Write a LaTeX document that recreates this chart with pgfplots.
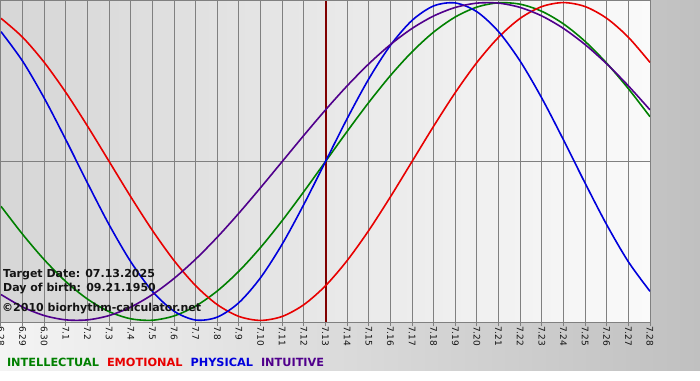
\documentclass[border=0pt]{standalone}
\usepackage{fontspec}
\setmainfont{DejaVu Sans}
\usepackage{pgfplots}
\pgfplotsset{compat=1.18}
\definecolor{cInt}{RGB}{0,128,0}
\definecolor{cEmo}{RGB}{232,0,0}
\definecolor{cPhy}{RGB}{0,0,220}
\definecolor{cItu}{RGB}{80,0,140}
\definecolor{gridc}{RGB}{128,128,128}
\definecolor{tline}{RGB}{128,0,0}
\definecolor{bgL}{RGB}{244,244,244}
\definecolor{bgR}{RGB}{192,192,192}
\definecolor{plotL}{RGB}{214,214,214}
\definecolor{plotR}{RGB}{250,250,250}
\definecolor{txt}{RGB}{20,20,20}
\begin{document}
\begin{tikzpicture}
\useasboundingbox (0,0) rectangle (700pt,380pt);
\fill[white] (0,0) rectangle (700pt,380pt);
\shade[left color=bgL, right color=bgR] (0,10pt) rectangle (700pt,380pt);
\begin{axis}[
  scale only axis, width=649pt, height=321pt,
  at={(1pt,58pt)}, anchor=south west,
  xmin=0, xmax=30, ymin=-1.01, ymax=1.01,
  axis background/.style={left color=plotL, right color=plotR},
  axis line style={gridc, line width=1pt},
  xtick={0,...,30},
  xticklabels={6.28,6.29,6.30,7.1,7.2,7.3,7.4,7.5,7.6,7.7,7.8,7.9,7.10,7.11,7.12,7.13,7.14,7.15,7.16,7.17,7.18,7.19,7.20,7.21,7.22,7.23,7.24,7.25,7.26,7.27,7.28},
  xmajorgrids, ymajorgrids,
  grid style={gridc, line width=1pt},
  tick align=outside, major tick length=4pt,
  xtick pos=lower,
  xtick style={gridc, line width=1pt},
  ytick={0}, yticklabels={}, ytick style={draw=none},
  xticklabel style={rotate=-90, anchor=west, inner sep=0pt, font=\fontsize{9}{9}\selectfont, text=txt},
  /pgf/number format/assume math mode=true,
  legend columns=-1,
  legend image code/.code={},
  legend style={draw=none, fill=none, at={(axis description cs:0.009,-0.127)}, anchor=west,
    inner sep=0pt, nodes={inner sep=0pt}, font=\fontsize{11.3}{13}\selectfont\bfseries,
    /tikz/every even column/.append style={column sep=8pt}},
]
\addplot[forget plot, tline, line width=2pt] coordinates {(15,-1.01) (15,1.01)};
\addplot[cInt, line width=1.6pt, smooth] coordinates {
(0,-0.28173) (1,-0.45822) (2,-0.61816) (3,-0.75575) (4,-0.86603) (5,-0.94500) (6,-0.98982) (7,-0.99887) (8,-0.97181) (9,-0.90963) (10,-0.81458) (11,-0.69007) (12,-0.54064) (13,-0.37166) (14,-0.18925) (15,0) (16,0.18925) (17,0.37166) (18,0.54064) (19,0.69007) (20,0.81458) (21,0.90963) (22,0.97181) (23,0.99887) (24,0.98982) (25,0.94500) (26,0.86603) (27,0.75575) (28,0.61816) (29,0.45822) (30,0.28173)};
\addlegendentry{\textcolor{cInt}{INTELLECTUAL}}
\addplot[cEmo, line width=1.6pt, smooth] coordinates {
(0,0.90097) (1,0.78183) (2,0.62349) (3,0.43388) (4,0.22252) (5,0) (6,-0.22252) (7,-0.43388) (8,-0.62349) (9,-0.78183) (10,-0.90097) (11,-0.97493) (12,-1) (13,-0.97493) (14,-0.90097) (15,-0.78183) (16,-0.62349) (17,-0.43388) (18,-0.22252) (19,0) (20,0.22252) (21,0.43388) (22,0.62349) (23,0.78183) (24,0.90097) (25,0.97493) (26,1) (27,0.97493) (28,0.90097) (29,0.78183) (30,0.62349)};
\addlegendentry{\textcolor{cEmo}{EMOTIONAL}}
\addplot[cPhy, line width=1.6pt, smooth] coordinates {
(0,0.81697) (1,0.63109) (2,0.39840) (3,0.13617) (4,-0.13617) (5,-0.39840) (6,-0.63109) (7,-0.81697) (8,-0.94226) (9,-0.99767) (10,-0.97908) (11,-0.88789) (12,-0.73084) (13,-0.51958) (14,-0.26980) (15,0) (16,0.26980) (17,0.51958) (18,0.73084) (19,0.88789) (20,0.97908) (21,0.99767) (22,0.94226) (23,0.81697) (24,0.63109) (25,0.39840) (26,0.13617) (27,-0.13617) (28,-0.39840) (29,-0.63109) (30,-0.81697)};
\addlegendentry{\textcolor{cPhy}{PHYSICAL}}
\addplot[cItu, line width=1.6pt, smooth] coordinates {
(0,-0.83717) (1,-0.91577) (2,-0.96940) (3,-0.99658) (4,-0.99658) (5,-0.96940) (6,-0.91577) (7,-0.83717) (8,-0.73572) (9,-0.61421) (10,-0.47595) (11,-0.32470) (12,-0.16459) (13,0) (14,0.16459) (15,0.32470) (16,0.47595) (17,0.61421) (18,0.73572) (19,0.83717) (20,0.91577) (21,0.96940) (22,0.99658) (23,0.99658) (24,0.96940) (25,0.91577) (26,0.83717) (27,0.73572) (28,0.61421) (29,0.47595) (30,0.32470)};
\addlegendentry{\textcolor{cItu}{INTUITIVE}}
\node[anchor=base west, inner sep=0pt, font=\fontsize{11}{13}\selectfont\bfseries, text=txt] at (rel axis cs:0,0) [xshift=2pt, yshift=45pt] {Target Date: 07.13.2025};
\node[anchor=base west, inner sep=0pt, font=\fontsize{11}{13}\selectfont\bfseries, text=txt] at (rel axis cs:0,0) [xshift=2pt, yshift=31pt] {Day of birth: 09.21.1950};
\node[anchor=base west, inner sep=0pt, font=\fontsize{11}{13}\selectfont\bfseries, text=txt] at (rel axis cs:0,0) [xshift=1pt, yshift=11pt] {©2010 biorhythm-calculator.net};
\node[anchor=west, inner sep=0pt, font=\fontsize{12}{12}\selectfont\bfseries, text=txt] at (rel axis cs:1,1) [xshift=9pt, yshift=-6pt] {100\%};
\node[anchor=west, inner sep=0pt, font=\fontsize{12}{12}\selectfont\bfseries, text=txt] at (axis cs:30,0) [xshift=8pt] {0};
\node[anchor=west, inner sep=0pt, font=\fontsize{12}{12}\selectfont\bfseries, text=txt] at (axis cs:30,-1.01) [xshift=7pt] {-100\%};
\end{axis}
\end{tikzpicture}
\end{document}
